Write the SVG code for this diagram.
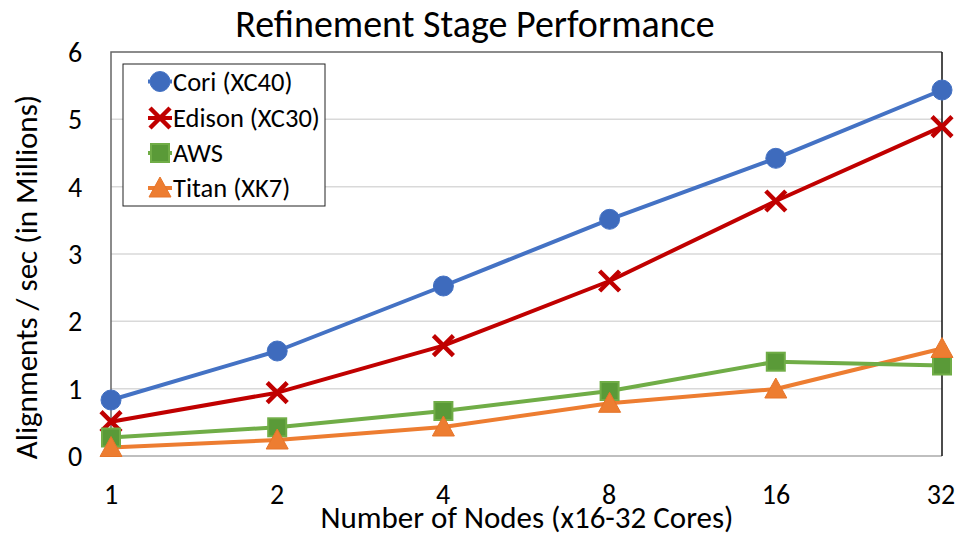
<svg xmlns="http://www.w3.org/2000/svg" width="959" height="536" viewBox="0 0 959 536">
<style>
text{font-family:Carlito,"Liberation Sans","Open Sans",sans-serif;fill:#000}
.grid{stroke:#d9d9d9;stroke-width:1.5}
.tick{font-size:28px;text-anchor:middle}
.leg{font-size:26.5px}
.cori{stroke:#4472c4;stroke-width:4;fill:none;stroke-linejoin:round}
.edi{stroke:#c00000;stroke-width:4;fill:none;stroke-linejoin:round}
.aws{stroke:#70ad47;stroke-width:4;fill:none;stroke-linejoin:round}
.titan{stroke:#ed7d31;stroke-width:4;fill:none;stroke-linejoin:round}
</style>
<defs>
<circle id="mc" r="10" fill="#3e6bbd" stroke="#4472c4" stroke-width="1"/>
<g id="mx"><path d="M-10,-10L10,10M-10,10L10,-10" stroke="#c00000" stroke-width="4.5" fill="none"/></g>
<rect id="ms" x="-9" y="-9" width="18" height="18" fill="#5a9a38" stroke="#70ad47" stroke-width="2"/>
<path id="mt" d="M0,-11L11,9L-11,9Z" fill="#ed7d31" stroke="#e6752a" stroke-width="1"/>
</defs>
<rect width="959" height="536" fill="#fff"/>
<text x="475" y="37" font-size="38" text-anchor="middle">Refinement Stage Performance</text>
<g id="grid">
<line class="grid" x1="111" y1="388.7" x2="942" y2="388.7"/>
<line class="grid" x1="111" y1="321.3" x2="942" y2="321.3"/>
<line class="grid" x1="111" y1="254" x2="942" y2="254"/>
<line class="grid" x1="111" y1="186.7" x2="942" y2="186.7"/>
<line class="grid" x1="111" y1="119.3" x2="942" y2="119.3"/>
<line x1="111" y1="456" x2="942" y2="456" stroke="#bfbfbf" stroke-width="2"/>
<path d="M111,456V52H942" stroke="#666" stroke-width="1.5" fill="none"/>
<line x1="942" y1="52" x2="942" y2="456" stroke="#111" stroke-width="1.5"/>
</g>
<g id="yticks" class="tick">
<text x="75" y="466">0</text>
<text x="75" y="398.7">1</text>
<text x="75" y="331.3">2</text>
<text x="75" y="264">3</text>
<text x="75" y="196.7">4</text>
<text x="75" y="129.3">5</text>
<text x="75" y="62">6</text>
</g>
<g id="xticks" class="tick">
<text x="111" y="504">1</text>
<text x="277" y="504">2</text>
<text x="443" y="504">4</text>
<text x="609" y="504">8</text>
<text x="776" y="504">16</text>
<text x="941" y="504">32</text>
</g>
<text x="527" y="528" font-size="31" text-anchor="middle">Number of Nodes (x16-32 Cores)</text>
<text transform="translate(37,277) rotate(-90)" font-size="31" text-anchor="middle">Alignments / sec (in Millions)</text>
<g id="connectors">
<polyline class="titan" points="111,447.5 277.2,440 443.4,427 609.6,403.3 775.8,389 942,348.5"/>
<polyline class="aws" points="111,437.5 277.2,427.3 443.4,411 609.6,391 775.8,361.7 942,365.5"/>
<polyline class="edi" points="111,421.7 277.2,392.7 443.4,345.7 609.6,281 775.8,201 942,126.7"/>
<polyline class="cori" points="111,400 277.2,351 443.4,286 609.6,219.3 775.8,158.3 942,90"/>
</g>
<g id="cori-markers">
<use href="#mc" x="111" y="400"/><use href="#mc" x="277.2" y="351"/><use href="#mc" x="443.4" y="286"/><use href="#mc" x="609.6" y="219.3"/><use href="#mc" x="775.8" y="158.3"/><use href="#mc" x="942" y="90"/>
</g>
<g id="edison-markers">
<use href="#mx" x="111" y="421.7"/><use href="#mx" x="277.2" y="392.7"/><use href="#mx" x="443.4" y="345.7"/><use href="#mx" x="609.6" y="281"/><use href="#mx" x="775.8" y="201"/><use href="#mx" x="942" y="126.7"/>
</g>
<g id="aws-markers">
<use href="#ms" x="111" y="437.5"/><use href="#ms" x="277.2" y="427.3"/><use href="#ms" x="443.4" y="411"/><use href="#ms" x="609.6" y="391"/><use href="#ms" x="775.8" y="361.7"/><use href="#ms" x="942" y="365.5"/>
</g>
<g id="titan-markers">
<use href="#mt" x="111" y="447.5"/><use href="#mt" x="277.2" y="440"/><use href="#mt" x="443.4" y="427"/><use href="#mt" x="609.6" y="403.3"/><use href="#mt" x="775.8" y="389"/><use href="#mt" x="942" y="348.5"/>
</g>
<g id="legend">
<rect x="123" y="64" width="202" height="142" fill="#fff" stroke="#222" stroke-width="1"/>
<line class="cori" x1="148" y1="81.5" x2="172" y2="81.5"/><use href="#mc" x="160" y="81.5"/>
<text class="leg" x="173" y="90.5">Cori (XC40)</text>
<line class="edi" x1="148" y1="118" x2="172" y2="118"/><use href="#mx" x="160" y="118"/>
<text class="leg" x="173" y="127">Edison (XC30)</text>
<line class="aws" x1="148" y1="153" x2="172" y2="153"/><use href="#ms" x="160" y="153"/>
<text class="leg" x="173" y="162">AWS</text>
<line class="titan" x1="148" y1="188" x2="172" y2="188"/><use href="#mt" x="160" y="188"/>
<text class="leg" x="173" y="197">Titan (XK7)</text>
</g>
</svg>
